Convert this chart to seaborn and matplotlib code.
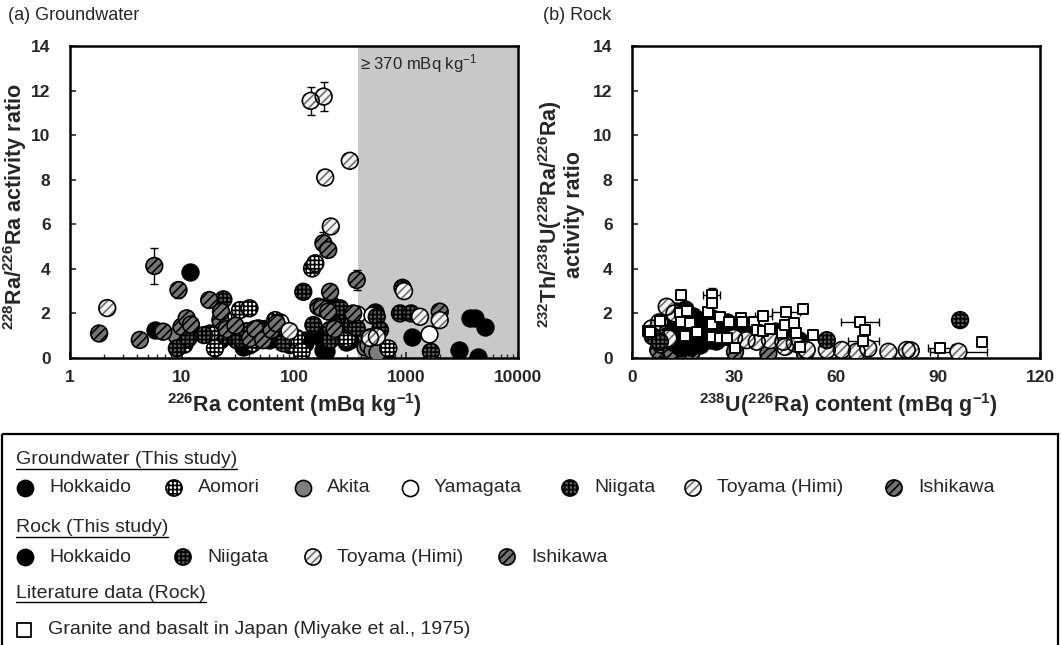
import matplotlib
matplotlib.use("Agg")
import matplotlib.pyplot as plt
import seaborn as sns
import pandas as pd
from matplotlib.patches import Rectangle
from matplotlib.ticker import NullFormatter

# ---------------- (a) groundwater: 226Ra content (mBq/kg) vs 228Ra/226Ra ----------------
gw_hokkaido_x = [5.7, 11.9, 11.4, 22, 35, 40, 60, 126, 126, 170, 183, 195, 210, 257, 290, 316, 470, 530, 650, 1125, 2990, 3720, 4150, 4430, 5070]
gw_hokkaido_y = [1.26, 3.87, 1.26, 0.81, 0.50, 0.60, 0.80, 0.66, 0.80, 0.96, 0.36, 0.30, 2.45, 1.26, 0.70, 0.80, 0.95, 2.08, 0.13, 0.96, 0.36, 1.78, 1.78, 0.05, 1.38]

gw_aomori_x = [10.5, 17.8, 19.7, 33, 40, 43, 55, 68, 75, 92, 105, 117, 145, 155, 276, 297, 525, 695]
gw_aomori_y = [0.60, 1.10, 0.43, 2.15, 2.23, 0.66, 1.30, 1.70, 1.00, 0.58, 0.90, 0.28, 4.02, 4.25, 0.88, 0.88, 0.97, 0.43]

gw_akita_x = [8.8, 249, 430, 460, 492, 548]
gw_akita_y = [1.03, 1.31, 0.50, 0.60, 0.36, 0.28]

gw_yamagata_x = [23, 75, 285, 367, 492, 1620]
gw_yamagata_y = [1.85, 1.60, 0.95, 1.98, 1.93, 1.06]

gw_niigata_x = [9.0, 11.4, 15.7, 23.4, 25, 29.7, 30.8, 33, 38, 48, 63, 80, 121, 149, 210, 210, 240, 257, 276, 305, 330, 363, 548, 586, 884, 930, 1110, 1670]
gw_niigata_y = [0.43, 0.88, 1.03, 2.63, 1.00, 1.33, 0.80, 0.87, 1.20, 1.33, 1.00, 0.66, 2.97, 1.48, 1.26, 0.80, 1.90, 2.23, 1.55, 1.48, 1.50, 1.33, 1.85, 1.26, 2.00, 3.15, 2.00, 0.28]

gw_ishikawa_x = [1.82, 4.2, 5.66, 6.8, 9.3, 9.9, 11, 12, 17.5, 22, 22.3, 25, 30, 40.5, 45, 53, 63, 70, 165, 177, 183, 202, 202, 210, 230, 338, 363, 2000]
gw_ishikawa_y = [1.10, 0.81, 4.13, 1.18, 3.05, 1.40, 1.78, 1.50, 2.60, 1.70, 2.08, 1.29, 1.45, 0.88, 1.30, 0.80, 1.26, 1.55, 2.30, 2.23, 5.15, 4.85, 2.08, 2.97, 1.30, 2.00, 3.50, 2.08]
gw_ishikawa_err = [0, 0, 0.80, 0, 0.35, 0, 0, 0, 0, 0, 0, 0, 0, 0, 0, 0, 0, 0, 0, 0, 0.50, 0, 0, 0, 0, 0, 0.45, 0]

gw_toyama_x = [2.15, 91, 141, 184, 190, 213, 315, 478, 550, 960, 1334, 2000]
gw_toyama_y = [2.24, 1.21, 11.54, 11.73, 8.10, 5.90, 8.85, 0.90, 0.95, 3.00, 1.85, 1.70]
gw_toyama_err = [0, 0, 0.62, 0.65, 0.25, 0.20, 0.20, 0, 0, 0, 0, 0]

gw_threshold = 370  # mBq/kg

# ---------------- (b) rock: 238U(226Ra) content (mBq/g) vs activity ratio ----------------
rk_lit_x = [4.6, 5.3, 8.1, 14.1, 14.4, 14.4, 15.7, 16.2, 17.1, 19.2, 22.4, 23.4, 23.4, 23.4, 23.6, 25.9, 25.9, 27.9, 28.6, 30.4,
            32.0, 32.3, 35.8, 36.7, 38.6, 38.6, 40.6, 44.1, 45.1, 45.3, 47.6, 48.3, 49.5, 50.2, 53.2, 67.0, 68.0, 68.5, 90.6, 102.8]
rk_lit_y = [1.20, 1.18, 1.64, 2.00, 2.84, 1.62, 0.97, 2.09, 1.56, 1.18, 2.08, 2.83, 2.45, 1.52, 0.96, 1.86, 0.90, 0.90, 1.63, 0.44,
            1.78, 1.62, 1.63, 1.26, 1.90, 1.20, 1.30, 1.10, 1.50, 2.08, 1.55, 1.10, 0.48, 2.20, 1.04, 1.63, 0.78, 1.27, 0.44, 0.74]
rk_lit_xerr = [0, 0, 0, 0, 0, 0, 0, 0, 0, 0, 0, 2.5, 0, 0, 0, 0, 0, 0, 1.5, 0,
               0, 0, 0, 0, 2.5, 0, 0, 0, 0, 4.0, 0, 0, 1.5, 1.0, 1.0, 5.5, 4.5, 0, 3.5, 0.8]
rk_lit_yerr = [0, 0, 0, 0, 0, 0, 0, 0, 0, 0, 0, 0.30, 0, 0, 0, 0, 0, 0, 0, 0,
               0, 0, 0, 0, 0, 0, 0, 0, 0, 0, 0, 0, 0, 0, 0, 0, 0, 0, 0, 0]

rk_hokkaido_x = [10.5, 11, 11.5, 12, 12.5, 13, 13.5, 14, 14, 14.5, 15, 15.5, 16, 16.5, 17, 17, 17.5, 18, 18.5, 19, 19.5, 20, 20,
                 21, 21.5, 22, 23, 23.5, 24, 25, 25.5, 26.5, 27, 28, 29, 30, 31, 32, 35, 38, 42, 46, 49,
                 11.8, 12.8, 13.8, 15.2, 16.2, 17.8, 18.8, 19.8, 20.8, 22.2, 23.2, 24.4, 25.8, 27.4, 28.6, 29.6, 13.2, 15.8, 18.2, 21.2, 24.8, 27.8]
rk_hokkaido_y = [1.00, 1.30, 1.90, 0.90, 1.60, 2.10, 1.20, 1.80, 0.50, 0.70, 1.50, 2.20, 1.00, 1.70, 1.30, 0.50, 0.80, 1.90, 1.10, 1.50, 0.70, 1.30, 0.60,
                 1.70, 1.00, 1.40, 0.80, 1.80, 1.20, 1.50, 0.90, 1.30, 1.00, 1.60, 1.20, 0.90, 1.40, 1.10, 1.30, 0.90, 1.20, 1.00, 0.80,
                 0.70, 1.05, 1.45, 1.15, 1.35, 1.20, 1.55, 1.00, 0.95, 1.15, 1.35, 1.00, 1.10, 1.25, 0.95, 1.50, 1.75, 1.95, 0.80, 1.50, 0.75, 1.45]

rk_niigata_x = [6.1, 8.2, 57.3, 96.5]
rk_niigata_y = [0.97, 0.73, 0.80, 1.70]
rk_niigata_xerr = [0, 0, 0, 1.5]

rk_toyama_x = [5.8, 7.0, 8.0, 10.2, 10.7, 12.5, 30, 33.7, 36.7, 40.6, 44.5, 45, 47.9, 51.4, 57.3, 61.7, 66.1, 69.5, 75.4, 80.8, 82, 96]
rk_toyama_y = [1.33, 1.10, 1.60, 2.30, 0.88, 2.00, 0.90, 0.80, 0.73, 0.80, 0.73, 0.50, 0.66, 0.36, 0.36, 0.36, 0.28, 0.43, 0.28, 0.36, 0.34, 0.28]
rk_toyama_xerr = [0, 0, 0, 0, 0, 0, 0, 0, 0, 0, 0, 0, 0, 0, 0, 0, 0, 0, 0, 0, 0, 8.5]

rk_ishikawa_x = [7.7, 8.5, 11.7, 12, 13, 14.5, 17.6, 30.3, 40.1, 50.9]
rk_ishikawa_y = [0.36, 0.60, 0.28, 1.20, 1.90, 0.45, 0.28, 0.28, 0.20, 0.20]

y_ticks = [0, 2, 4, 6, 8, 10, 12, 14]
gw_x_ticks = [1, 10, 100, 1000, 10000]
rk_x_ticks = [0, 30, 60, 90, 120]

legend_gw = ['Hokkaido', 'Aomori', 'Akita', 'Yamagata', 'Niigata', 'Toyama (Himi)', 'Ishikawa']
legend_rk = ['Hokkaido', 'Niigata', 'Toyama (Himi)', 'Ishikawa']
legend_lit = 'Granite and basalt in Japan (Miyake et al., 1975)'

# ---------------- styles ----------------
STYLE = {
    'Hokkaido': dict(face='black', hatch=None, hcol=None),
    'Aomori': dict(face='white', hatch='++++', hcol=None),
    'Akita': dict(face='#7d7d7d', hatch=None, hcol=None),
    'Yamagata': dict(face='white', hatch=None, hcol=None),
    'Niigata': dict(face='#5e5e5e', hatch='++++', hcol=None),
    'Toyama (Himi)': dict(face='#f4f4f4', hatch='////', hcol='#707070'),
    'Ishikawa': dict(face='#747474', hatch='////', hcol=None),
}

sns.set_style('white')
plt.rcParams.update({
    'font.family': ['Liberation Sans', 'DejaVu Sans'],
    'mathtext.fontset': 'custom',
    'mathtext.rm': 'Liberation Sans',
    'mathtext.it': 'Liberation Sans:italic',
    'mathtext.bf': 'Liberation Sans:bold',
    'mathtext.default': 'bf',
    'hatch.linewidth': 1.2,
})

W, H = 1061, 645
fig = plt.figure(figsize=(W / 100, H / 100), dpi=100)


def px_rect(x0, y0, x1, y1):
    return [x0 / W, 1 - y1 / H, (x1 - x0) / W, (y1 - y0) / H]


axLeg = fig.add_axes([0, 0, 1, 1])
axLeg.set_xlim(0, W)
axLeg.set_ylim(H, 0)
axLeg.axis('off')
axL = fig.add_axes(px_rect(70, 46, 518, 358))
axR = fig.add_axes(px_rect(632, 46, 1040, 358))

MS = 145


def draw_group(ax, xs, ys, key, marker='o', s=MS, z=3, lw=1.2):
    st = STYLE[key]
    df = pd.DataFrame({'x': xs, 'y': ys})
    if st['hcol'] is not None:
        sns.scatterplot(data=df, x='x', y='y', ax=ax, marker=marker, s=s, color=st['face'],
                        edgecolor=st['hcol'], linewidth=0, hatch=st['hatch'], legend=False, zorder=z)
        sns.scatterplot(data=df, x='x', y='y', ax=ax, marker=marker, s=s, facecolor='none',
                        edgecolor='black', linewidth=lw, legend=False, zorder=z)
    else:
        sns.scatterplot(data=df, x='x', y='y', ax=ax, marker=marker, s=s, color=st['face'],
                        edgecolor='black', linewidth=lw, hatch=st['hatch'], legend=False, zorder=z)


def err(ax, xs, ys, xe=None, ye=None):
    idx = [i for i in range(len(xs)) if (xe and xe[i] > 0) or (ye and ye[i] > 0)]
    if not idx:
        return
    ax.errorbar([xs[i] for i in idx], [ys[i] for i in idx],
                xerr=None if xe is None else [xe[i] for i in idx],
                yerr=None if ye is None else [ye[i] for i in idx],
                fmt='none', ecolor='black', elinewidth=1.0, capsize=3, capthick=1.0, zorder=2)


# ---- (a) groundwater ----
axL.set_xscale('log')
axL.axvspan(gw_threshold, 10000, color='#c8c8c8', zorder=0, lw=0)
err(axL, gw_ishikawa_x, gw_ishikawa_y, ye=gw_ishikawa_err)
err(axL, gw_toyama_x, gw_toyama_y, ye=gw_toyama_err)
draw_group(axL, gw_hokkaido_x, gw_hokkaido_y, 'Hokkaido', z=3)
draw_group(axL, gw_akita_x, gw_akita_y, 'Akita', z=3)
draw_group(axL, gw_yamagata_x, gw_yamagata_y, 'Yamagata', z=3)
draw_group(axL, gw_aomori_x, gw_aomori_y, 'Aomori', z=4)
draw_group(axL, gw_niigata_x, gw_niigata_y, 'Niigata', z=4)
draw_group(axL, gw_ishikawa_x, gw_ishikawa_y, 'Ishikawa', z=5)
draw_group(axL, gw_toyama_x, gw_toyama_y, 'Toyama (Himi)', z=6)
axL.set_xlim(1, 10000)
axL.set_xticks(gw_x_ticks, [str(t) for t in gw_x_ticks], fontweight='bold', fontsize=12.5)
axL.xaxis.set_minor_formatter(NullFormatter())
axL.text(385, 13.2, r'≥ 370 mBq kg$\mathrm{^{-1}}$', fontsize=12, va='center', ha='left', zorder=7)
axL.set_xlabel(r'$^{226}$Ra content (mBq kg$^{-1}$)', fontsize=15.5, fontweight='bold', va='center')
axL.xaxis.set_label_coords(0.5, -0.151)
axL.set_ylabel(r'$^{228}$Ra/$^{226}$Ra activity ratio', fontsize=15.5, fontweight='bold', va='center')
axL.yaxis.set_label_coords(-0.122, 0.484)

# ---- (b) rock ----
err(axR, rk_lit_x, rk_lit_y, xe=rk_lit_xerr, ye=rk_lit_yerr)
err(axR, rk_niigata_x, rk_niigata_y, xe=rk_niigata_xerr)
err(axR, rk_toyama_x, rk_toyama_y, xe=rk_toyama_xerr)
draw_group(axR, rk_ishikawa_x, rk_ishikawa_y, 'Ishikawa', z=3)
draw_group(axR, rk_hokkaido_x, rk_hokkaido_y, 'Hokkaido', z=4)
draw_group(axR, rk_toyama_x, rk_toyama_y, 'Toyama (Himi)', z=5)
draw_group(axR, rk_niigata_x, rk_niigata_y, 'Niigata', z=6)
sns.scatterplot(x=rk_lit_x, y=rk_lit_y, ax=axR, marker='s', s=42, color='white', edgecolor='black',
                linewidth=1.4, legend=False, zorder=7)
axR.set_xlim(0, 120)
axR.set_xticks(rk_x_ticks, [str(t) for t in rk_x_ticks], fontweight='bold', fontsize=12.5)
axR.set_xlabel(r'$^{238}$U($^{226}$Ra) content (mBq g$^{-1}$)', fontsize=15.5, fontweight='bold', va='center')
axR.xaxis.set_label_coords(0.53, -0.151)
axR.set_ylabel('$^{232}$Th/$^{238}$U($^{228}$Ra/$^{226}$Ra)\nactivity ratio', fontsize=15.5,
               fontweight='bold', va='center', linespacing=1.0)
axR.yaxis.set_label_coords(-0.176, 0.46)

for ax in (axL, axR):
    ax.set_facecolor('white')
    for sp in ax.spines.values():
        sp.set_visible(True)
        sp.set_color('black')
        sp.set_linewidth(1.8)
    ax.set_ylim(0, 14)
    ax.set_yticks(y_ticks, [str(t) for t in y_ticks], fontweight='bold', fontsize=12.5)
    ax.tick_params(axis='y', which='major', direction='in', length=4, width=1.2, pad=14, left=True)
    ax.tick_params(axis='x', which='major', direction='in', length=4, width=1.2, pad=9, bottom=True)
    ax.tick_params(axis='x', which='minor', direction='in', length=3, width=1.0, bottom=True)

fig.text(8 / W, 1 - 15 / H, '(a) Groundwater', fontsize=13, va='center', ha='left')
fig.text(543 / W, 1 - 15 / H, '(b) Rock', fontsize=13, va='center', ha='left')

# ---- legend box ----
axLeg.add_patch(Rectangle((2, 434), 1056, 240, fill=False, edgecolor='black', linewidth=1.6, clip_on=False))
headers = [('Groundwater (This study)', 460), ('Rock (This study)', 528), ('Literature data (Rock)', 593)]
header_texts = [axLeg.text(16, yy, t, fontsize=14, va='center', ha='left') for t, yy in headers]

row1_mx = [25, 174, 303, 410, 570, 693, 894]
for name, mx in zip(legend_gw, row1_mx):
    draw_group(axLeg, [mx], [488], name, s=135, z=3)
    axLeg.text(mx + 24, 488, name, fontsize=14, va='center', ha='left')

row2_mx = [25, 183, 313, 507]
for name, mx in zip(legend_rk, row2_mx):
    draw_group(axLeg, [mx], [557], name, s=135, z=3)
    axLeg.text(mx + 24, 557, name, fontsize=14, va='center', ha='left')

sns.scatterplot(x=[24], y=[630], ax=axLeg, marker='s', s=110, color='white', edgecolor='black',
                linewidth=1.3, legend=False, zorder=3)
axLeg.text(48, 630, legend_lit, fontsize=14, va='center', ha='left')
axLeg.set_xlim(0, W)
axLeg.set_ylim(H, 0)

fig.canvas.draw()
rend = fig.canvas.get_renderer()
for t in header_texts:
    bb = t.get_window_extent(rend)
    yline = H - bb.y0 + 0.5
    axLeg.plot([bb.x0, bb.x1], [yline, yline], color='black', lw=1.0)

fig.savefig('out.png', dpi=100)
